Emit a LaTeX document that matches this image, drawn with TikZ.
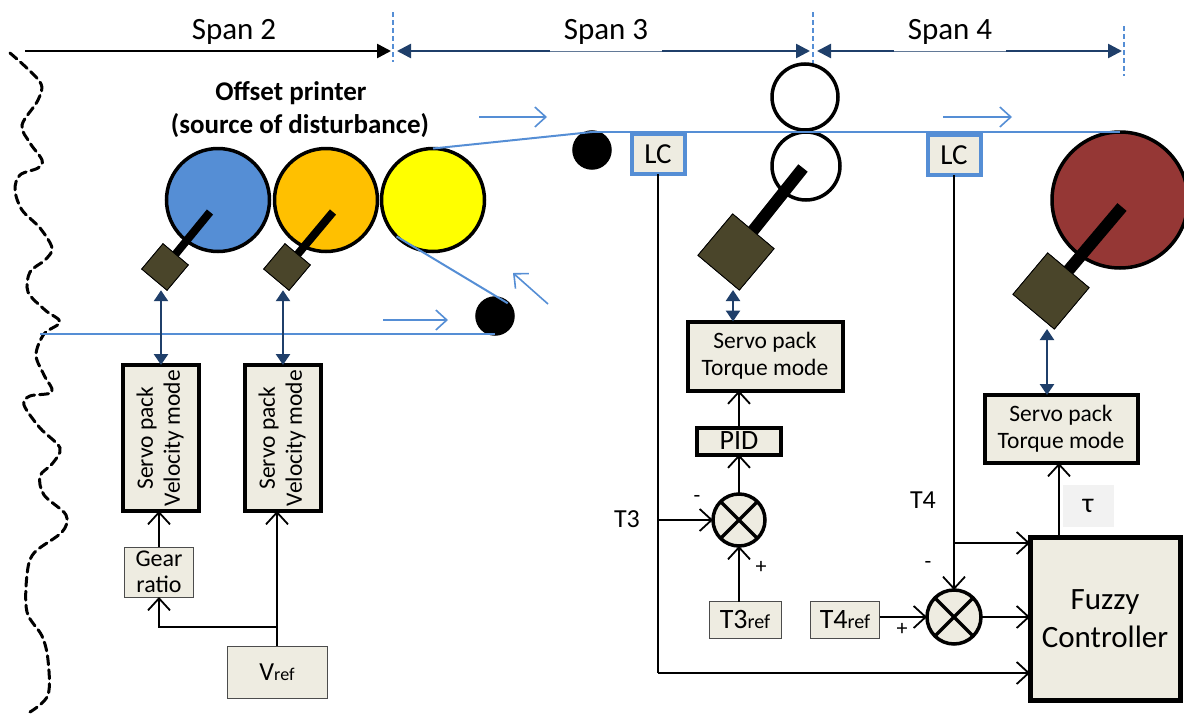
\documentclass[tikz,border=0pt]{standalone}
\usepackage{fontspec}
\usepackage{graphicx}
\setmainfont{Carlito}
\usetikzlibrary{arrows.meta,calc}

\definecolor{boxfill}{HTML}{EEECE1}
\definecolor{motorc}{HTML}{4A452A}
\definecolor{rollblue}{HTML}{558ED5}
\definecolor{rollorange}{HTML}{FFC000}
\definecolor{rollyellow}{HTML}{FFFF00}
\definecolor{rollred}{HTML}{953735}
\definecolor{webc}{HTML}{558ED5}
\definecolor{navy}{HTML}{1F3F6A}
\definecolor{tauback}{HTML}{F2F2F2}

\tikzset{
  roll/.style={circle, draw=black, line width=3.5pt, inner sep=0pt, outer sep=0pt},
  motor/.style={rectangle, draw=black, line width=0.8pt, fill=motorc, inner sep=0pt, outer sep=0pt, rotate=50},
  shaft/.style={line width=#1, black},
  shaft/.default=8pt,
  thickbox/.style={rectangle, draw=black, line width=4pt, fill=boxfill, inner sep=0pt, outer sep=0pt, align=center,
    font=\fontsize{23.5}{27}\selectfont},
  thinbox/.style={rectangle, draw=black!70, line width=0.8pt, fill=boxfill, inner sep=0pt, outer sep=0pt, align=center},
  lcbox/.style={rectangle, draw=webc, line width=4pt, fill=boxfill, inner sep=0pt, outer sep=0pt,
    minimum width=53pt, minimum height=40pt, font=\fontsize{29}{29}\selectfont},
  sumnode/.style={circle, draw=black, line width=3.5pt, fill=boxfill, inner sep=0pt, outer sep=0pt},
  conn/.style={line width=1.8pt, black, -{Straight Barb[length=12pt,width=22pt]}},
  plainline/.style={line width=1.8pt, black},
  dbl/.style={line width=2.5pt, navy, {Triangle[length=11pt,width=14pt]}-{Triangle[length=11pt,width=14pt]}},
  web/.style={line width=2pt, webc},
  flow/.style={line width=1.6pt, webc, -{Straight Barb[length=11pt,width=20pt]}},
  spanarrow/.style={line width=2.5pt, navy, {Triangle[length=14pt,width=14pt]}-{Triangle[length=14pt,width=14pt]}},
  spanmark/.style={line width=1.5pt, webc, dash pattern=on 5pt off 3pt},
  spanlabel/.style={fill=white, inner sep=2pt, font=\fontsize{31}{31}\selectfont},
  lbl/.style={inner sep=0pt, font=\fontsize{26}{26}\selectfont},
  sign/.style={inner sep=0pt, font=\fontsize{22}{22}\selectfont}
}

\newcommand{\xcross}[1]{%
  \draw[line width=3.5pt] (#1.north west) -- (#1.south east) (#1.north east) -- (#1.south west);}

\begin{document}
\begin{tikzpicture}[x=1pt,y=-1pt]
\useasboundingbox (0,0) rectangle (1184,715);

% ---------------- span dimension arrows ----------------
\coordinate (sp2a) at (25,51);
\coordinate (sp2b) at (391,51);
\coordinate (sp3a) at (397,51);
\coordinate (sp3b) at (810,51);
\coordinate (sp4a) at (817,51);
\coordinate (sp4b) at (1122,51);
\draw[line width=2.5pt, black, -{Triangle[length=14pt,width=14pt]}] (sp2a) -- (sp2b);
\draw[spanarrow] (sp3a) -- (sp3b);
\draw[spanarrow] (sp4a) -- (sp4b);
\draw[spanmark] (393,12) -- (393,62);
\draw[spanmark] (813,12) -- (813,68);
\draw[spanmark] (1124,26) -- (1124,76);
\node[inner sep=0pt, font=\fontsize{31}{31}\selectfont] (lsp2) at (234,32) {Span 2};
\node[spanlabel, minimum width=112pt, minimum height=38pt] (lsp3) at (606,32) {Span 3};
\draw[line width=0.8pt, navy!70] (lsp3.south west) -- (lsp3.south east);
\node[spanlabel, minimum width=112pt, minimum height=38pt] (lsp4) at (950,32) {Span 4};
\draw[line width=0.8pt, navy!70] (lsp4.south west) -- (lsp4.south east);

% ---------------- torn edge on the left ----------------
\draw[line width=3pt, black, dash pattern=on 9pt off 5pt, line cap=round]
  plot[smooth, tension=0.55] coordinates {
   (10,53) (40,82) (38,100) (22,125) (30,143) (42,160) (38,168) (20,175) (15,190)
   (22,210) (40,228) (52,248) (45,260) (30,272) (28,292) (45,310) (60,322) (44,334)
   (36,355) (44,375) (52,392) (30,396) (24,405) (40,428) (60,448) (52,464) (40,476)
   (44,495) (66,515) (62,532) (34,553) (27,575) (27,612) (42,636) (48,660) (48,695) (30,712)};

% ---------------- offset printer rollers ----------------
\node[font=\bfseries\fontsize{27}{27}\selectfont, inner sep=0pt] (tprint1) at (291,93) {Offset printer};
\node[font=\bfseries\fontsize{27}{27}\selectfont, inner sep=0pt] (tprint2) at (300,126) {(source of disturbance)};

\node[roll, fill=rollblue, minimum size=103pt] (rB) at (218,200) {};
\node[roll, fill=rollorange, minimum size=103pt] (rO) at (326,200) {};
\node[roll, fill=rollyellow, minimum size=103pt] (rY) at (433,200) {};
\node[roll, fill=black, minimum size=36pt] (rk1) at (495,316) {};
\node[roll, fill=black, minimum size=36pt] (rk2) at (592,150) {};

% motors of the printing units
\node[motor, minimum size=33pt] (mB) at (165,267) {};
\node[motor, minimum size=33pt] (mO) at (287,267) {};
\draw[shaft] (210,212) -- (mB.center);
\draw[shaft] (333,212) -- (mO.center);
\node[motor, minimum size=33pt] at (mB) {};
\node[motor, minimum size=33pt] at (mO) {};

% ---------------- nip rollers and rewinder ----------------
\node[roll, fill=white, minimum size=66pt] (rT) at (805,97) {};
\node[roll, fill=white, minimum size=68pt] (rM) at (806,166) {};
\node[roll, fill=rollred, minimum size=136pt] (rR) at (1120,200) {};
\node[motor, minimum size=54pt] (mM) at (736,252) {};
\node[motor, minimum size=54pt] (mR) at (1051,291) {};
\draw[shaft=12pt] (803,168) -- (mM.center);
\draw[shaft=12pt] (1122,207) -- (mR.center);
\node[motor, minimum size=54pt] at (mM) {};
\node[motor, minimum size=54pt] at (mR) {};

% ---------------- web path ----------------
\coordinate (webin) at (40,334);
\draw[web] (webin) -- (rk1.south);
\draw[web] (rY.south west) -- (rk1.north east);
\draw[web] (rY.north) -- (rk2.north);
\draw[web] (rk2.north) -- (rR.north);

% web direction arrows
\coordinate (f1a) at (383,320); \coordinate (f1b) at (448,320);
\coordinate (f2a) at (548,304); \coordinate (f2b) at (513,273);
\coordinate (f3a) at (479,117); \coordinate (f3b) at (547,117);
\coordinate (f4a) at (943,117); \coordinate (f4b) at (1012,117);
\draw[flow] (f1a) -- (f1b);
\draw[flow] (f2a) -- (f2b);
\draw[flow] (f3a) -- (f3b);
\draw[flow] (f4a) -- (f4b);

% load cells
\node[lcbox] (lc1) at (658,154) {LC};
\node[lcbox] (lc2) at (954,155) {LC};

% ---------------- drives of the printing units ----------------
\node[thickbox, minimum width=76pt, minimum height=146pt] (svA) at (161,438)
  {\rotatebox{90}{\begin{tabular}{@{}c@{}}Servo pack\\Velocity mode\end{tabular}}};
\node[thickbox, minimum width=76pt, minimum height=146pt] (svB) at (283,438)
  {\rotatebox{90}{\begin{tabular}{@{}c@{}}Servo pack\\Velocity mode\end{tabular}}};
\node[thinbox, minimum width=69pt, minimum height=50pt, font=\fontsize{24}{26}\selectfont] (gear) at (159,572) {Gear\\ratio};
\node[thinbox, minimum width=100pt, minimum height=52pt] (vref) at (277,672)
  {\fontsize{26}{26}\selectfont V\fontsize{18}{18}\selectfont ref};

\draw[dbl] (svA.north) -- (svA.north |- mB.south west);
\draw[dbl] (svB.north) -- (svB.north |- mO.south west);
\draw[conn] (gear.north) -- (gear.north |- svA.south);
\draw[conn] (vref.north) -- (vref.north |- svB.south);
\coordinate (vbr) at (vref.north |- 0,627);
\draw[conn] (vbr) -| (gear.south);

% ---------------- span 3 tension loop ----------------
\node[thickbox, minimum width=155pt, minimum height=69pt] (svM) at (765,356) {Servo pack\\Torque mode};
\node[thickbox, minimum width=84pt, minimum height=27pt, font=\fontsize{28}{28}\selectfont] (pid) at (739,441) {PID};
\node[sumnode, minimum size=52pt] (s1) at (739,520) {};
\xcross{s1}
\node[thinbox, minimum width=72pt, minimum height=37pt] (t3r) at (745,620)
  {\fontsize{28}{28}\selectfont T3\fontsize{20}{20}\selectfont ref};
\node[thinbox, minimum width=69pt, minimum height=37pt] (t4r) at (845,620)
  {\fontsize{28}{28}\selectfont T4\fontsize{20}{20}\selectfont ref};

\coordinate (dM) at ($(svM.north)+(-32,0)$);
\draw[dbl] (dM) -- (dM |- mM.south west);
\draw[conn] (pid.north) -- (pid.north |- svM.south);
\draw[conn] (s1.north) -- (s1.north |- pid.south);
\draw[conn] (s1.south |- t3r.north) -- (s1.south);

\coordinate (ybot) at (0,673);
\draw[plainline] (lc1.south) -- (lc1.south |- ybot);
\draw[conn] (lc1.south |- s1) -- (s1.west);
\node[lbl] (lt3) at (627,519) {T3};
\node[sign] at (697,499) {-};
\node[sign] at (761,567) {+};

% ---------------- span 4 tension loop ----------------
\node[thickbox, line width=5pt, minimum width=150pt, minimum height=163pt, font=\fontsize{31}{38}\selectfont] (fz) at (1105,619)
  {Fuzzy\\Controller};
\node[thickbox, minimum width=153pt, minimum height=68pt] (svR) at (1061,429) {Servo pack\\Torque mode};
\node[fill=tauback, minimum width=51pt, minimum height=42pt, inner sep=0pt, font=\fontsize{28}{28}\selectfont] (tau) at (1088,506) {τ};
\node[sumnode, minimum size=54pt] (s2) at (954,617) {};
\xcross{s2}

\coordinate (dR) at ($(svR.north)+(-14,0)$);
\draw[dbl] (dR) -- (dR |- mR.south west);
\coordinate (fzo) at ($(fz.north west)+(29,0)$);
\draw[conn] (fzo) -- (fzo |- svR.south);

\coordinate (yt4) at (0,543);
\draw[conn] (lc2.south) -- (s2.north);
\draw[conn] (lc2.south |- yt4) -- (fz.west |- yt4);
\draw[conn] (t4r.east |- s2) -- (s2.west);
\draw[conn] (s2.east) -- (fz.west |- s2);
\draw[conn] (lc1.south |- ybot) -- (fz.west |- ybot);
\node[lbl] (lt4) at (923,500) {T4};
\node[sign] at (928,565) {-};
\node[sign] at (902,629) {+};

\end{tikzpicture}
\end{document}
